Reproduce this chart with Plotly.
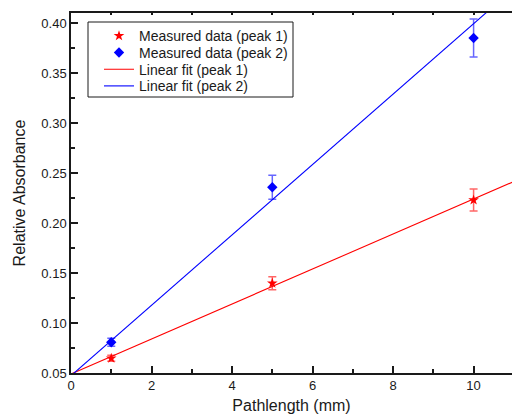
import plotly.graph_objects as go

# Measured relative absorbance versus pathlength
pathlength_mm = [1, 5, 10]

peak1_abs = [0.0647, 0.1397, 0.223]
peak1_err = [0.003, 0.0065, 0.011]

peak2_abs = [0.0807, 0.2357, 0.385]
peak2_err = [0.004, 0.012, 0.019]

# Linear fit lines, given as end points over the axis span
fit_x = [0, 11]
fit1_y = [0.0490, 0.2415]
fit2_y = [0.0473, 0.4345]

FONT = "Liberation Sans, Arial, sans-serif"
AXIS_COLOR = "#1a1a1a"

# plot area geometry (px) used to place the legend frame
W, H = 512, 417
ML, MR, MT, MB = 71, 0, 13, 44
PW, PH = W - ML - MR, H - MT - MB


def px_x(v):
    return (v - ML) / PW


def px_y(v):
    return (H - MB - v) / PH


fig = go.Figure()

# Peak 1 entries go to legend 1, peak 2 entries to legend 2; the two
# legends interleave so the rows read 1, 2, 1, 2 in a tight stack.
fig.add_trace(go.Scatter(
    x=pathlength_mm, y=peak1_abs, mode="markers",
    name="Measured data (peak 1)", legend="legend", legendgroup="m1",
    marker=dict(symbol="star", size=8, color="#ff0000"),
    error_y=dict(type="data", array=peak1_err, visible=True,
                 color="rgba(255,0,0,0.6)", thickness=1.5, width=4),
))
fig.add_trace(go.Scatter(
    x=pathlength_mm, y=peak2_abs, mode="markers",
    name="Measured data (peak 2)", legend="legend2", legendgroup="m2",
    marker=dict(symbol="diamond", size=8, color="#0000ff"),
    error_y=dict(type="data", array=peak2_err, visible=True,
                 color="rgba(0,0,255,0.6)", thickness=1.5, width=4),
))
fig.add_trace(go.Scatter(
    x=fit_x, y=fit1_y, mode="lines", name="Linear fit (peak 1)",
    legend="legend", legendgroup="f1",
    line=dict(color="#ff0000", width=1.1),
))
fig.add_trace(go.Scatter(
    x=fit_x, y=fit2_y, mode="lines", name="Linear fit (peak 2)",
    legend="legend2", legendgroup="f2",
    line=dict(color="#0000ff", width=1.1),
))
# empty trace so the top frame axis is drawn
fig.add_trace(go.Scatter(x=[], y=[], xaxis="x2", showlegend=False,
                         hoverinfo="skip"))

x_range = [0, 10.954]

row = 16.7
legend_style = dict(
    xanchor="left", yanchor="top", bgcolor="rgba(0,0,0,0)",
    borderwidth=0, font=dict(family=FONT, size=14, color="#1a1a1a"),
    tracegroupgap=2 * row - 21.2, traceorder="grouped",
)

fig.update_layout(
    width=W, height=H,
    margin=dict(l=ML, r=MR, t=MT, b=MB),
    paper_bgcolor="white", plot_bgcolor="white",
    font=dict(family=FONT, size=13, color="#1a1a1a"),
    showlegend=True,
    legend=dict(x=px_x(99), y=px_y(20.2), **legend_style),
    legend2=dict(x=px_x(99), y=px_y(20.2 + row), **legend_style),
    shapes=[dict(
        type="rect", xref="paper", yref="paper",
        x0=px_x(88), x1=px_x(293), y0=px_y(97), y1=px_y(22),
        line=dict(color="#1a1a1a", width=1), fillcolor="white",
        layer="below",
    )],
    xaxis=dict(
        range=x_range, showgrid=False, zeroline=False,
        showline=True, linecolor=AXIS_COLOR, linewidth=1.5,
        ticks="inside", ticklen=7, tickwidth=1.5, tickcolor=AXIS_COLOR,
        tick0=0, dtick=2,
        minor=dict(ticks="inside", ticklen=4, tickwidth=1.5,
                   tickcolor=AXIS_COLOR, dtick=1, tick0=0, showgrid=False),
        tickfont=dict(size=13),
        title=dict(text="Pathlength (mm)", font=dict(size=16), standoff=7),
    ),
    xaxis2=dict(
        overlaying="x", side="top", range=x_range, showgrid=False,
        zeroline=False, showline=True, linecolor=AXIS_COLOR, linewidth=1.5,
        ticks="inside", ticklen=2, tickwidth=1.5, tickcolor=AXIS_COLOR,
        tick0=0, dtick=1, showticklabels=False,
    ),
    yaxis=dict(
        range=[0.05, 0.41], showgrid=False, zeroline=False,
        showline=True, linecolor=AXIS_COLOR, linewidth=1.5,
        ticks="inside", ticklen=7, tickwidth=1.5, tickcolor=AXIS_COLOR,
        tick0=0.05, dtick=0.05, tickformat=".2f",
        minor=dict(ticks="inside", ticklen=4, tickwidth=1.5,
                   tickcolor=AXIS_COLOR, dtick=0.025, tick0=0.05,
                   showgrid=False),
        tickfont=dict(size=13),
        title=dict(text="Relative Absorbance", font=dict(size=16),
                   standoff=12),
    ),
)

fig.write_html("out.html")
